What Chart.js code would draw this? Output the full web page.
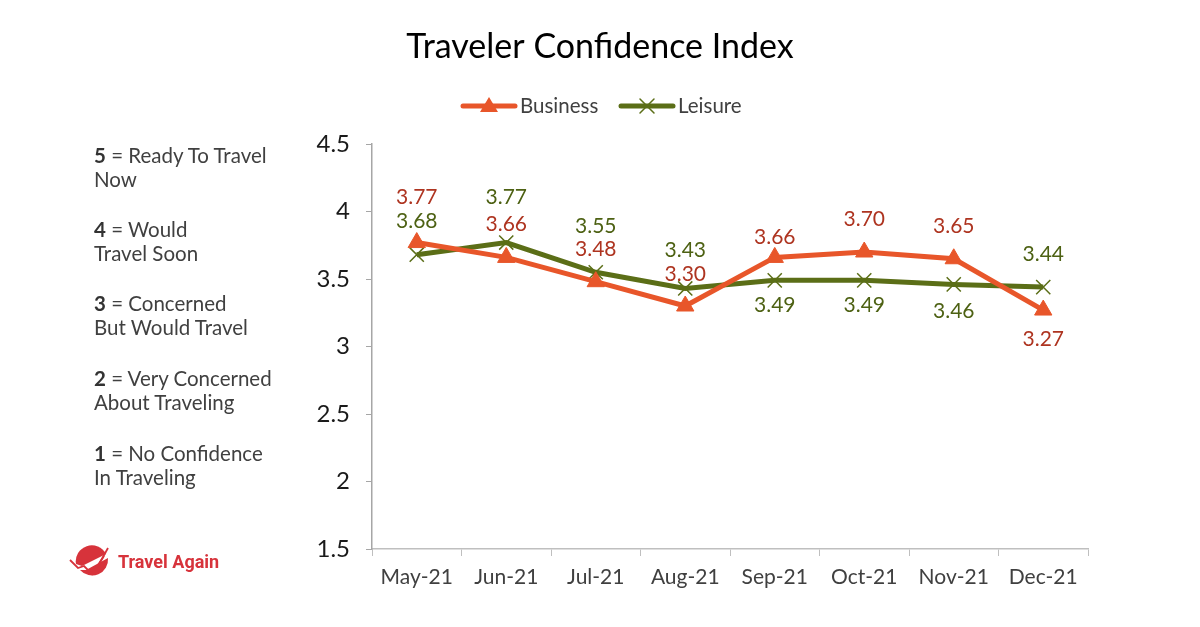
<!DOCTYPE html>
<html>
<head>
<meta charset="utf-8">
<script src="https://cdn.jsdelivr.net/npm/chart.js@4/dist/chart.umd.min.js"></script>
<style>
  html,body{margin:0;padding:0;background:#fff;}
  #wrap{position:relative;width:1200px;height:627px;overflow:hidden;}
  #c{position:absolute;left:0;top:0;}
  .key{position:absolute;left:94px;font-family:Lato,"Open Sans",sans-serif;font-size:20.5px;line-height:24px;color:#404040;white-space:nowrap;}
  .key b{color:#333;}
  #logo{position:absolute;left:68px;top:544px;width:170px;height:40px;}
  #logo span{position:absolute;left:50px;top:7px;font-family:Roboto,sans-serif;font-weight:700;font-size:18px;color:#D7333B;white-space:nowrap;}
</style>
</head>
<body>
<div id="wrap">
  <canvas id="c" width="1200" height="627"></canvas>
  <div class="key" style="top:143px"><b>5</b> = Ready To Travel<br>Now</div>
  <div class="key" style="top:217px"><b>4</b> = Would<br>Travel Soon</div>
  <div class="key" style="top:291px"><b>3</b> = Concerned<br>But Would Travel</div>
  <div class="key" style="top:366px"><b>2</b> = Very Concerned<br>About Traveling</div>
  <div class="key" style="top:441px"><b>1</b> = No Confidence<br>In Traveling</div>
  <div id="logo">
    <svg width="48" height="40" viewBox="0 0 48 40">
      <path d="M8 20 A16 16 0 0 1 38 10 L14 22 Z" fill="#D7333B"/>
      <path d="M12 26 A16 16 0 0 0 40 14 L18 26 Z" fill="#D7333B"/>
      <path d="M2 16 L10 24 L16 22 L24 30 L36 12" fill="none" stroke="#D7333B" stroke-width="1.8"/>
      <path d="M40 4 L30 22" stroke="#D7333B" stroke-width="1.8"/>
    </svg>
    <span>Travel Again</span>
  </div>
</div>
<script>
const categories = ["May-21","Jun-21","Jul-21","Aug-21","Sep-21","Oct-21","Nov-21","Dec-21"];
const businessValues = [3.77, 3.66, 3.48, 3.30, 3.66, 3.70, 3.65, 3.27];
const leisureValues  = [3.68, 3.77, 3.55, 3.43, 3.49, 3.49, 3.46, 3.44];
const yTicks = [1.5, 2, 2.5, 3, 3.5, 4, 4.5];
const seriesNames = ["Business", "Leisure"];
const titleText = "Traveler Confidence Index";

// label placement (vertical offsets from point, in px)
const businessLabelDy = [-45, -33, -32, -32, -20, -33, -33, 29];
const leisureLabelDy  = [-33, -45, -46, -38, 25, 25, 27, -33];

const FONT = "Lato, 'Open Sans', sans-serif";
const ORANGE = "#E8562A", ORANGE_TXT = "#AE3420";
const OLIVE = "#5B6E17", OLIVE_TXT = "#4D6113";

const labelPlugin = {
  id: "pointLabels",
  afterDatasetsDraw(chart) {
    const ctx = chart.ctx;
    ctx.save();
    ctx.font = "21px " + FONT;
    ctx.textAlign = "center";
    ctx.textBaseline = "middle";
    const cfg = [[businessLabelDy, ORANGE_TXT], [leisureLabelDy, OLIVE_TXT]];
    chart.data.datasets.forEach((ds, i) => {
      const meta = chart.getDatasetMeta(i);
      meta.data.forEach((pt, j) => {
        ctx.fillStyle = cfg[i][1];
        ctx.fillText(ds.data[j].toFixed(2), pt.x, pt.y + cfg[i][0][j]);
      });
    });
    ctx.restore();
  }
};

const titleLegendPlugin = {
  id: "titleLegend",
  afterDraw(chart) {
    const ctx = chart.ctx;
    ctx.save();
    // title
    ctx.font = "34px " + FONT;
    ctx.fillStyle = "#000";
    ctx.textAlign = "center";
    ctx.textBaseline = "middle";
    ctx.fillText(titleText, 600, 47);
    // legend
    const y = 106;
    const items = [
      {x: 463, color: ORANGE, style: "triangle", lw: 5},
      {x: 621, color: OLIVE, style: "crossRot", lw: 5}
    ];
    ctx.font = "20.5px " + FONT;
    items.forEach((it, i) => {
      ctx.strokeStyle = it.color;
      ctx.lineWidth = it.lw;
      ctx.lineCap = "round";
      ctx.beginPath(); ctx.moveTo(it.x, y); ctx.lineTo(it.x + 52, y); ctx.stroke();
      const cx = it.x + 26;
      if (it.style === "triangle") {
        ctx.fillStyle = it.color;
        ctx.beginPath(); ctx.moveTo(cx, y - 9); ctx.lineTo(cx + 9, y + 6); ctx.lineTo(cx - 9, y + 6); ctx.closePath(); ctx.fill();
      } else {
        ctx.lineWidth = 1.5;
        ctx.beginPath(); ctx.moveTo(cx - 7, y - 7); ctx.lineTo(cx + 7, y + 7);
        ctx.moveTo(cx + 7, y - 7); ctx.lineTo(cx - 7, y + 7); ctx.stroke();
      }
      ctx.fillStyle = "#404040";
      ctx.textAlign = "left";
      ctx.fillText(seriesNames[i], it.x + 57, y);
    });
    ctx.restore();
  }
};

new Chart(document.getElementById("c"), {
  type: "line",
  data: {
    labels: categories,
    datasets: [
      {
        label: seriesNames[0], data: businessValues,
        borderColor: ORANGE, backgroundColor: ORANGE, borderWidth: 5,
        pointStyle: "triangle", pointRadius: 10, pointBorderWidth: 1,
        pointBackgroundColor: ORANGE, pointBorderColor: ORANGE, tension: 0
      },
      {
        label: seriesNames[1], data: leisureValues,
        borderColor: OLIVE, backgroundColor: OLIVE, borderWidth: 5,
        pointStyle: "crossRot", pointRadius: 10, pointBorderWidth: 1.5,
        pointBorderColor: OLIVE, tension: 0
      }
    ]
  },
  options: {
    responsive: false,
    animation: false,
    layout: { padding: { left: 300, right: 112, top: 144, bottom: 28 } },
    plugins: {
      legend: { display: false },
      tooltip: { enabled: false },
      title: { display: false }
    },
    scales: {
      x: {
        offset: true,
        grid: { display: true, offset: true, drawOnChartArea: false, tickLength: 7, color: "#BFBFBF" },
        border: { color: "#BFBFBF", width: 1.5 },
        ticks: { color: "#404040", font: { family: FONT, size: 21 }, padding: 9, maxRotation: 0 },
        afterFit(s) { s.height = 50; }
      },
      y: {
        min: 1.5, max: 4.5,
        afterBuildTicks(s) { s.ticks = yTicks.map(v => ({ value: v })); },
        grid: { display: true, drawOnChartArea: false, tickLength: 6, color: "#A6A6A6" },
        border: { color: "#A6A6A6", width: 1.5 },
        ticks: { color: "#1a1a1a", font: { family: FONT, size: 24 }, padding: 16,
                 callback: v => String(v) },
        afterFit(s) { s.width = 72; }
      }
    }
  },
  plugins: [labelPlugin, titleLegendPlugin]
});
</script>
</body>
</html>
